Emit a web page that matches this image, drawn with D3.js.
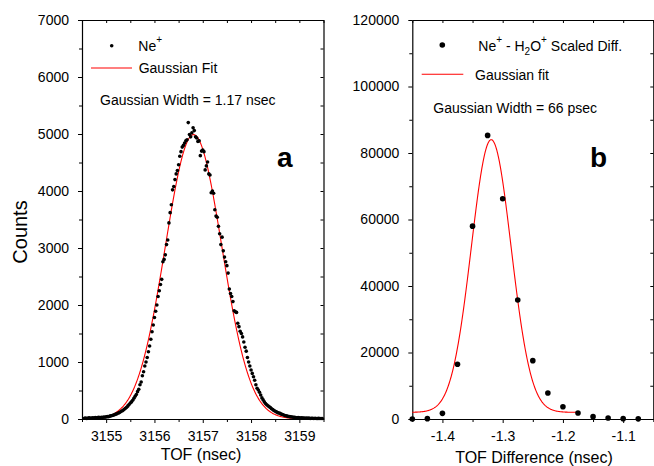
<!DOCTYPE html>
<html><head><meta charset="utf-8">
<script src="https://cdn.jsdelivr.net/npm/d3@7"></script>
<style>
body{margin:0;background:#fff}
svg{display:block}
text{font-family:"Liberation Sans",Arial,Helvetica,sans-serif;fill:#000}
</style>
</head><body><svg id="chart" width="654" height="466"></svg>
<script>
// ---------- Panel a data (Ne+ TOF spectrum) ----------
const tofA = [
3154.550,3154.575,3154.600,3154.625,3154.650,3154.675,3154.700,3154.725,3154.750,3154.775,
3154.800,3154.825,3154.850,3154.875,3154.900,3154.925,3154.950,3154.975,3155.000,3155.025,
3155.050,3155.075,3155.100,3155.125,3155.150,3155.175,3155.200,3155.225,3155.250,3155.275,
3155.300,3155.325,3155.350,3155.375,3155.400,3155.425,3155.450,3155.475,3155.500,3155.525,
3155.550,3155.575,3155.600,3155.625,3155.650,3155.675,3155.700,3155.725,3155.750,3155.775,
3155.800,3155.825,3155.850,3155.875,3155.900,3155.925,3155.950,3155.975,3156.000,3156.025,
3156.050,3156.075,3156.100,3156.125,3156.150,3156.175,3156.200,3156.225,3156.250,3156.275,
3156.300,3156.325,3156.350,3156.375,3156.400,3156.425,3156.450,3156.475,3156.500,3156.525,
3156.550,3156.575,3156.600,3156.625,3156.650,3156.675,3156.700,3156.725,3156.750,3156.775,
3156.800,3156.825,3156.850,3156.875,3156.900,3156.925,3156.950,3156.975,3157.000,3157.025,
3157.050,3157.075,3157.100,3157.125,3157.150,3157.175,3157.200,3157.225,3157.250,3157.275,
3157.300,3157.325,3157.350,3157.375,3157.400,3157.425,3157.450,3157.475,3157.500,3157.525,
3157.550,3157.575,3157.600,3157.625,3157.650,3157.675,3157.700,3157.725,3157.750,3157.775,
3157.800,3157.825,3157.850,3157.875,3157.900,3157.925,3157.950,3157.975,3158.000,3158.025,
3158.050,3158.075,3158.100,3158.125,3158.150,3158.175,3158.200,3158.225,3158.250,3158.275,
3158.300,3158.325,3158.350,3158.375,3158.400,3158.425,3158.450,3158.475,3158.500,3158.525,
3158.550,3158.575,3158.600,3158.625,3158.650,3158.675,3158.700,3158.725,3158.750,3158.775,
3158.800,3158.825,3158.850,3158.875,3158.900,3158.925,3158.950,3158.975,3159.000,3159.025,
3159.050,3159.075,3159.100,3159.125,3159.150,3159.175,3159.200,3159.225,3159.250,3159.275,
3159.300,3159.325,3159.350,3159.375,3159.400,3159.425,3159.450,3159.475
];
const countsA = [
12,18,10,15,20,14,18,22,16,25,
20,24,28,22,30,27,35,32,38,42,
40,50,55,62,68,75,85,92,105,112,
128,140,152,170,188,205,230,255,282,300,
330,365,400,430,480,520,600,650,760,830,
930,1000,1080,1180,1280,1400,1530,1650,1780,1890,
2000,2150,2250,2360,2450,2760,2800,2880,3060,3140,
3440,3620,3760,4020,4080,4200,4300,4360,4460,4610,
4690,4770,4800,4840,4880,4900,5200,4990,4950,5020,
5110,5060,4950,4930,4870,4880,4620,4700,4720,4690,
4370,4440,4510,4300,4280,3970,4000,3960,3670,3560,
3540,3380,3250,3060,3190,2950,2840,2760,2690,2560,
2280,2200,2150,2060,1900,1880,1870,1680,1620,1540,
1500,1440,1350,1260,1190,1080,1000,930,860,800,
740,680,600,540,510,470,420,370,335,300,
270,250,232,215,200,180,165,150,135,125,
112,105,98,85,78,70,62,58,50,45,
42,38,34,30,28,25,22,24,20,18,
22,16,18,14,16,12,15,10,14,12,
9,12,10,8,11,9,10,8
];
// Gaussian fit parameters (w = 2 sigma)
const fitA = {center: 3156.81, width: 1.17, amplitude: 4990, offset: 0, from: 3155.15, to: 3158.90};

// ---------- Panel b data (scaled difference) ----------
const tofDiffB = [-1.450,-1.425,-1.400,-1.375,-1.350,-1.325,-1.300,-1.275,-1.250,-1.225,-1.200,-1.175,-1.150,-1.125,-1.100,-1.075];
const countsB  = [0,100,1700,16450,58000,85300,66250,35800,17550,7800,3700,1800,700,300,100,50];
const fitB = {center: -1.319, width: 0.066, amplitude: 82000, offset: 2000, from: -1.45, to: -1.175};

// ---------- ticks ----------
const xTicksA = [3155,3156,3157,3158,3159];
const xMinorA = [3154.5,3155.5,3156.5,3157.5,3158.5,3159.5];
const yTicksA = [0,1000,2000,3000,4000,5000,6000,7000];
const yMinorA = [500,1500,2500,3500,4500,5500,6500];
const xTicksB = [-1.4,-1.3,-1.2,-1.1];
const xMinorB = [-1.45,-1.35,-1.25,-1.15,-1.05];
const yTicksB = [0,20000,40000,60000,80000,100000,120000];
const yMinorB = [10000,30000,50000,70000,90000,110000];

const svg = d3.select("#chart");
const FONT = '"Liberation Sans",Arial,Helvetica,sans-serif';

function gauss(p, x){ return p.offset + p.amplitude*Math.exp(-2*Math.pow((x-p.center)/p.width,2)); }

function panel(cfg){
  const x = d3.scaleLinear().domain(cfg.xDomain).range([cfg.left, cfg.right]);
  const y = d3.scaleLinear().domain(cfg.yDomain).range([cfg.bottom, cfg.top]);
  const g = svg.append("g");

  const styleAxis = sel => {
    sel.selectAll("path.domain").attr("stroke","#000").attr("stroke-width",1.2);
    sel.selectAll("line").attr("stroke","#000").attr("stroke-width",1);
    sel.selectAll("text").attr("font-size",14).attr("font-family",FONT).attr("fill","#000");
  };
  // bottom
  g.append("g").attr("transform",`translate(0,${cfg.bottom})`)
    .call(d3.axisBottom(x).tickValues(cfg.xTicks).tickSize(4).tickSizeOuter(0).tickPadding(8).tickFormat(cfg.xFmt))
    .call(styleAxis);
  g.append("g").attr("transform",`translate(0,${cfg.bottom})`)
    .call(d3.axisBottom(x).tickValues(cfg.xMinor).tickSize(3).tickFormat(""))
    .call(s=>s.select(".domain").remove()).call(styleAxis);
  // left
  g.append("g").attr("transform",`translate(${cfg.left},0)`)
    .call(d3.axisLeft(y).tickValues(cfg.yTicks).tickSize(4).tickSizeOuter(0).tickPadding(9).tickFormat(d3.format("d")))
    .call(styleAxis);
  g.append("g").attr("transform",`translate(${cfg.left},0)`)
    .call(d3.axisLeft(y).tickValues(cfg.yMinor).tickSize(3).tickFormat(""))
    .call(s=>s.select(".domain").remove()).call(styleAxis);
  // top (inward ticks)
  g.append("g").attr("transform",`translate(0,${cfg.top})`)
    .call(d3.axisTop(x).tickValues(cfg.xTicks.concat(cfg.xMinor)).tickSize(-3).tickSizeOuter(0).tickFormat(""))
    .call(styleAxis);
  // right (inward ticks)
  g.append("g").attr("transform",`translate(${cfg.right},0)`)
    .call(d3.axisRight(y).tickValues(cfg.yTicks.concat(cfg.yMinor)).tickSize(-3).tickSizeOuter(0).tickFormat(""))
    .call(styleAxis);

  // fit curve
  const fx = d3.range(cfg.fit.from, cfg.fit.to, (cfg.fit.to-cfg.fit.from)/400).concat([cfg.fit.to]);
  g.append("path")
    .datum(fx)
    .attr("fill","none").attr("stroke","#ff0000").attr("stroke-width",1.1)
    .attr("d", d3.line().x(d=>x(d)).y(d=>y(gauss(cfg.fit,d))));

  // points
  g.append("g").selectAll("circle").data(cfg.xs.map((v,i)=>[v,cfg.ys[i]]))
    .join("circle").attr("cx",d=>x(d[0])).attr("cy",d=>y(d[1])).attr("r",cfg.r).attr("fill","#000");
  return {x,y,g};
}

const A = panel({xDomain:[3154.5,3159.5], yDomain:[0,7000], left:82, right:323.5, top:20, bottom:419,
  xTicks:xTicksA, xMinor:xMinorA, yTicks:yTicksA, yMinor:yMinorA, xFmt:d3.format("d"),
  fit:fitA, xs:tofA, ys:countsA, r:1.8});
const B = panel({xDomain:[-1.45,-1.05], yDomain:[0,120000], left:412.3, right:653.3, top:20, bottom:419,
  xTicks:xTicksB, xMinor:xMinorB, yTicks:yTicksB, yMinor:yMinorB, xFmt:d=>d.toFixed(1),
  fit:fitB, xs:tofDiffB, ys:countsB, r:2.8});

// axis titles
svg.append("text").attr("transform","translate(27,232) rotate(-90)").attr("text-anchor","middle")
  .attr("font-size",20).text("Counts");
svg.append("text").attr("x",201).attr("y",460).attr("text-anchor","middle").attr("font-size",16).text("TOF (nsec)");
svg.append("text").attr("x",534).attr("y",463).attr("text-anchor","middle").attr("font-size",16).text("TOF Difference (nsec)");

// legend a
svg.append("circle").attr("cx",111.7).attr("cy",45.7).attr("r",1.8).attr("fill","#000");
const la = svg.append("text").attr("x",138.3).attr("y",50.5).attr("font-size",14);
la.append("tspan").text("Ne");
la.append("tspan").attr("font-size",10).attr("dy",-8).text("+");
svg.append("line").attr("x1",91).attr("x2",132).attr("y1",68).attr("y2",68).attr("stroke","#ff0000").attr("stroke-width",1.1);
svg.append("text").attr("x",138.7).attr("y",72.5).attr("font-size",14).text("Gaussian Fit");
svg.append("text").attr("x",100).attr("y",104.5).attr("font-size",14).text("Gaussian Width = 1.17 nsec");
svg.append("text").attr("x",277).attr("y",167).attr("font-size",28).attr("font-weight","bold").text("a");

// legend b
svg.append("circle").attr("cx",442.3).attr("cy",45).attr("r",2.8).attr("fill","#000");
const lb = svg.append("text").attr("x",478.3).attr("y",50.5).attr("font-size",14);
lb.append("tspan").text("Ne");
lb.append("tspan").attr("font-size",10).attr("dy",-8).text("+");
lb.append("tspan").attr("dy",8).text(" - H");
lb.append("tspan").attr("font-size",10).attr("dy",4).text("2");
lb.append("tspan").attr("dy",-4).text("O");
lb.append("tspan").attr("font-size",10).attr("dy",-8).text("+");
lb.append("tspan").attr("dy",8).text(" Scaled Diff.");
svg.append("line").attr("x1",421.7).attr("x2",463.3).attr("y1",74.3).attr("y2",74.3).attr("stroke","#ff0000").attr("stroke-width",1.1);
svg.append("text").attr("x",475).attr("y",80).attr("font-size",14).text("Gaussian fit");
svg.append("text").attr("x",433.3).attr("y",112.5).attr("font-size",14).text("Gaussian Width = 66 psec");
svg.append("text").attr("x",590).attr("y",167).attr("font-size",28).attr("font-weight","bold").text("b");
</script>
</body></html>
